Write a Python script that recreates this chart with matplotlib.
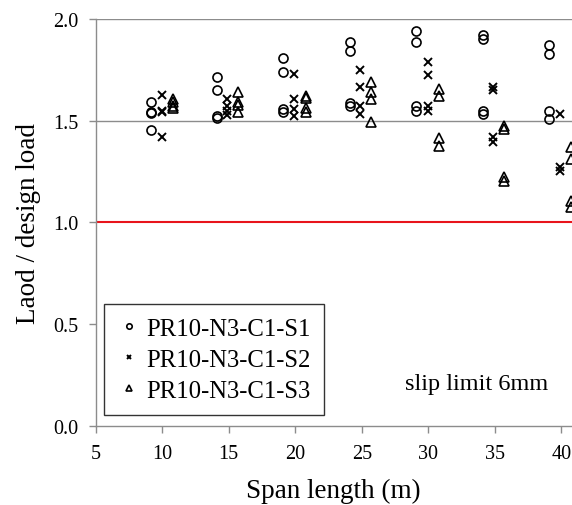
import matplotlib.pyplot as plt

plt.rcParams['font.family'] = ['Liberation Serif', 'DejaVu Serif']

# specimen S1 (circles)
s1_span = [9.2, 9.2, 9.2, 9.2, 14.1, 14.1, 14.1, 14.1, 19.1, 19.1, 19.1, 19.1,
           24.1, 24.1, 24.1, 24.1, 29.1, 29.1, 29.1, 29.1, 34.1, 34.1, 34.1, 34.1,
           39.1, 39.1, 39.1, 39.1]
s1_ratio = [1.594, 1.545, 1.540, 1.454, 1.717, 1.653, 1.522, 1.512, 1.809, 1.741, 1.558, 1.545,
            1.889, 1.845, 1.587, 1.571, 1.943, 1.886, 1.571, 1.549, 1.922, 1.902, 1.549, 1.535,
            1.874, 1.828, 1.549, 1.508]

# specimen S2 (crosses)
s2_span = [10.0, 10.0, 10.0, 10.0, 14.9, 14.9, 14.9, 14.9, 19.9, 19.9, 19.9, 19.9,
           24.9, 24.9, 24.9, 24.9, 30.0, 30.0, 30.0, 30.0, 34.9, 34.9, 34.9, 34.9,
           39.9, 39.9, 39.9]
s2_ratio = [1.628, 1.548, 1.542, 1.418, 1.607, 1.574, 1.549, 1.528, 1.728, 1.607, 1.556, 1.522,
            1.750, 1.668, 1.571, 1.533, 1.787, 1.725, 1.571, 1.549, 1.664, 1.653, 1.418, 1.394,
            1.533, 1.271, 1.254]

# specimen S3 (triangles)
s3_span = [10.8, 10.8, 10.8, 10.8, 15.7, 15.7, 15.7, 15.7, 20.8, 20.8, 20.8, 20.8,
           25.7, 25.7, 25.7, 25.7, 30.8, 30.8, 30.8, 30.8, 35.7, 35.7, 35.7, 35.7,
           40.7, 40.7, 40.7, 40.7]
s3_ratio = [1.605, 1.590, 1.572, 1.560, 1.640, 1.594, 1.579, 1.545, 1.623, 1.610, 1.560, 1.545,
            1.689, 1.640, 1.607, 1.495, 1.656, 1.623, 1.414, 1.377, 1.476, 1.459, 1.222, 1.205,
            1.369, 1.312, 1.107, 1.074]

labels = ["PR10-N3-C1-S1", "PR10-N3-C1-S2", "PR10-N3-C1-S3"]
x_ticks = [5, 10, 15, 20, 25, 30, 35, 40]
y_ticks = [0.0, 0.5, 1.0, 1.5, 2.0]

fig = plt.figure(figsize=(5.72, 5.06), dpi=100)
ax = fig.add_axes([0.167, 0.1567, 0.833, 0.8038])

grey = "#8c8c8c"
for g in [1.5, 2.0]:
    ax.axhline(g, color=grey, lw=1.0, zorder=1)
ax.axhline(1.0, color="#e8141b", lw=1.5, zorder=2)

ax.plot(s1_span, s1_ratio, 'o', ms=6.5, mfc='none', mec='black', mew=1.2, label=labels[0], zorder=3)
ax.plot(s2_span, s2_ratio, 'x', ms=6, mec='black', mew=1.4, label=labels[1], zorder=3)
ax.plot(s3_span, s3_ratio, '^', ms=6.5, mfc='none', mec='black', mew=1.2, label=labels[2], zorder=3)

ax.set_xlim(5, 40.8)
ax.set_ylim(0, 2.0)
ax.set_xticks(x_ticks)
ax.set_yticks(y_ticks)
ax.set_yticklabels(["%.1f" % v for v in y_ticks])
ax.tick_params(direction='out', length=5, width=1, color=grey, labelsize=14.5)
ax.tick_params(axis='y', pad=7)
ax.tick_params(axis='x', pad=8)

for side in ['top', 'right']:
    ax.spines[side].set_visible(False)
for side in ['left', 'bottom']:
    ax.spines[side].set_color(grey)
    ax.spines[side].set_linewidth(1.0)
ax.spines['left'].set_zorder(4)

ax.set_xlabel("Span length (m)", fontsize=19.5, labelpad=11)
ax.set_ylabel("Laod / design load", fontsize=19.5, labelpad=9)

leg = ax.legend(loc='lower left', bbox_to_anchor=(0.018, 0.026), borderaxespad=0,
                fontsize=17.8, markerscale=0.6, frameon=True, fancybox=False,
                edgecolor='black', handlelength=0.9, handletextpad=0.25,
                labelspacing=0.35, borderpad=0.55)
leg.get_frame().set_linewidth(1.0)

ax.text(0.65, 0.105, "slip limit 6mm", transform=ax.transAxes, fontsize=17.5,
        ha='left', va='center')

fig.savefig("out.png", dpi=100)
